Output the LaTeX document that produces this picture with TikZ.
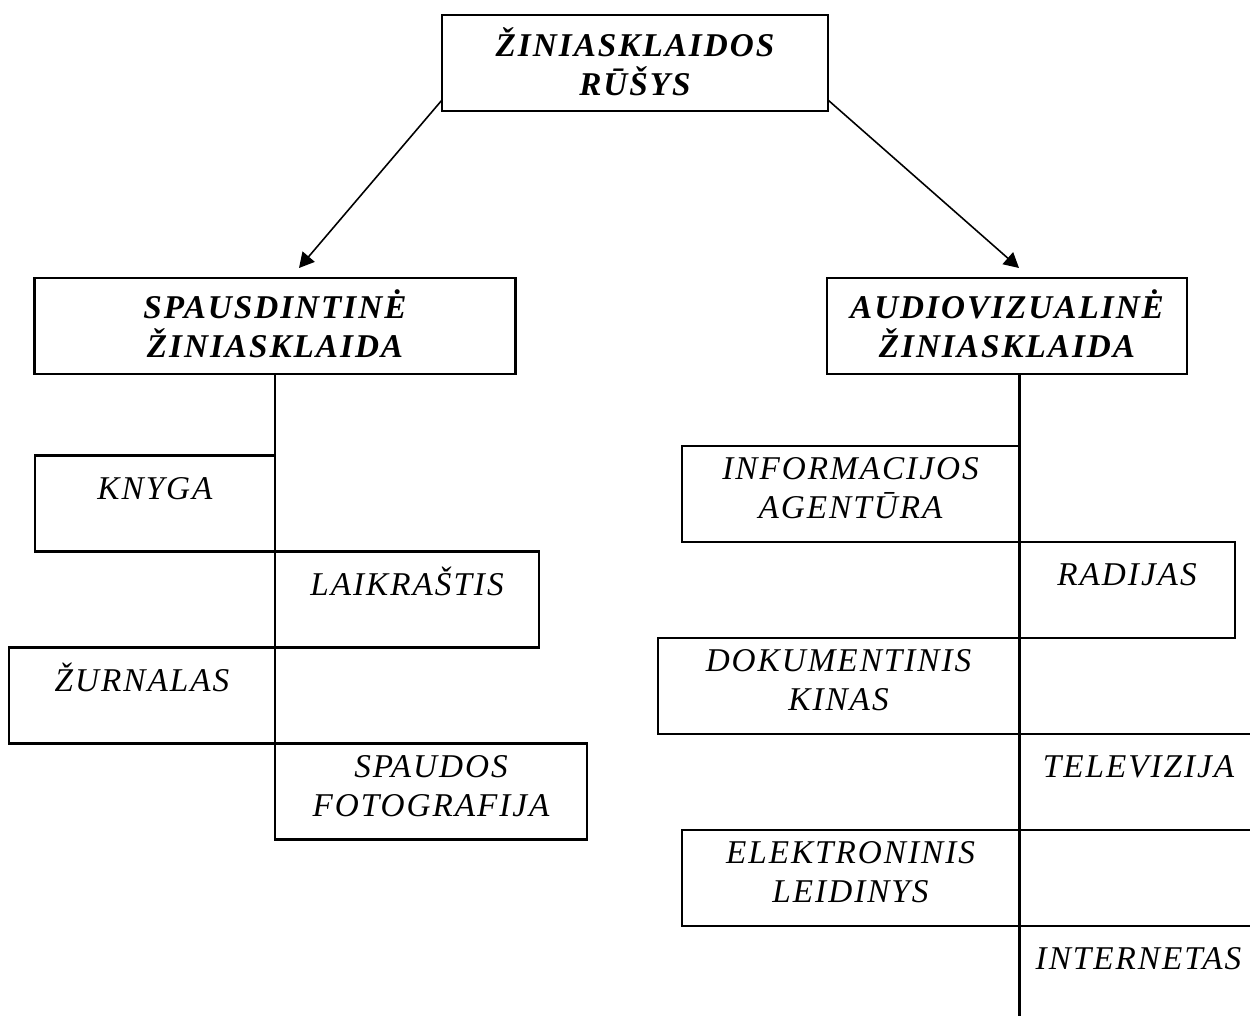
\documentclass[tikz,border=0pt]{standalone}
\usepackage{fontspec}
\setmainfont{Liberation Serif}
\newfontfamily\boxfont[LetterSpace=6]{Liberation Serif}
\usetikzlibrary{positioning,arrows.meta}

\tikzset{
	mediabox/.style={rectangle, draw, line width=1.25pt, minimum height=96*0.2mm, inner sep=0pt, outer sep=0pt},
	itemtext/.style={align=center, inner sep=0pt, font={\boxfont\fontsize{18.9}{22.2}\selectfont\itshape}, execute at begin node={\rule{0pt}{18pt}}},
	kindtext/.style={itemtext, font={\boxfont\fontsize{18.9}{22.2}\selectfont\bfseries\itshape}},
	trunk/.style={line width=1.7pt},
	branch/.style={line width=0.9pt, -{Triangle[length=8.5pt,width=9pt]}}
}

\begin{document}
\begin{tikzpicture}[x=0.2mm, y=-0.2mm]
			\useasboundingbox (0,0) rectangle (1250,1016);
			\clip (0,0) rectangle (1250,1016);

			\node[mediabox, minimum width=386*0.2mm](topBox) at (635,63){};
			\node[mediabox, minimum width=481*0.2mm](spausdBox) at (275,326){};
			\node[mediabox, minimum width=360*0.2mm](audioBox) at (1007,326){};

			\node[kindtext, below=7.2pt of topBox.north](topText){ŽINIASKLAIDOS\\RŪŠYS};
			\node[kindtext, below=6.6pt of spausdBox.north](spausdText){SPAUSDINTINĖ\\ŽINIASKLAIDA};
			\node[kindtext, below=6.6pt of audioBox.north](audioText){AUDIOVIZUALINĖ\\ŽINIASKLAIDA};

			\node[mediabox, minimum width=240*0.2mm](knygaBox) at (155,503.5){};
			\node[mediabox, minimum width=264*0.2mm](laikrastisBox) at (407,599.5){};
			\node[mediabox, minimum width=266*0.2mm](zurnalasBox) at (142,695.5){};
			\node[mediabox, minimum width=312*0.2mm](spaudosBox) at (431,791.5){};

			\node[itemtext, below=6.6pt of knygaBox.north](knygaText){KNYGA};
			\node[itemtext, below=6.6pt of laikrastisBox.north](laikrastisText){LAIKRAŠTIS};
			\node[itemtext, below=6.6pt of zurnalasBox.north](zurnalasText){ŽURNALAS};
			\node[itemtext, below=6.6pt of spaudosBox.north](spaudosText){SPAUDOS\\FOTOGRAFIJA};

			\node[mediabox, minimum width=337*0.2mm](informBox) at (850.5,494){};
			\node[mediabox, minimum width=216*0.2mm](radijasBox) at (1127,590){};
			\node[mediabox, minimum width=361*0.2mm](dokumBox) at (838.5,686){};
			\node[mediabox, minimum width=239*0.2mm](televizijaBox) at (1138.5,782){};
			\node[mediabox, minimum width=337*0.2mm](elektronBox) at (850.5,878){};
			\node[mediabox, minimum width=239*0.2mm](internetasBox) at (1138.5,974){};

			\node[itemtext, below=6.6pt of informBox.north](informText){INFORMACIJOS\\AGENTŪRA};
			\node[itemtext, below=6.6pt of radijasBox.north](radijasText){RADIJAS};
			\node[itemtext, below=6.6pt of dokumBox.north](dokumText){DOKUMENTINIS\\KINAS};
			\node[itemtext, below=6.6pt of televizijaBox.north](televizijaText){TELEVIZIJA};
			\node[itemtext, below=6.6pt of elektronBox.north](elektronText){ELEKTRONINIS\\LEIDINYS};
			\node[itemtext, below=6.6pt of internetasBox.north](internetasText){INTERNETAS};

			\coordinate (spausdTip) at (299,268);
			\coordinate (audioTip) at (1019,268);
			\draw[branch] ([yshift=2.2mm]topBox.south west) -- (spausdTip);
			\draw[branch] ([yshift=2.2mm]topBox.south east) -- (audioTip);

			\draw[trunk] (spausdBox.south) -- (spaudosBox.north west);
			\draw[trunk] (audioBox.south -| internetasBox.west) -- (internetasBox.south west);
		\end{tikzpicture}
\end{document}
